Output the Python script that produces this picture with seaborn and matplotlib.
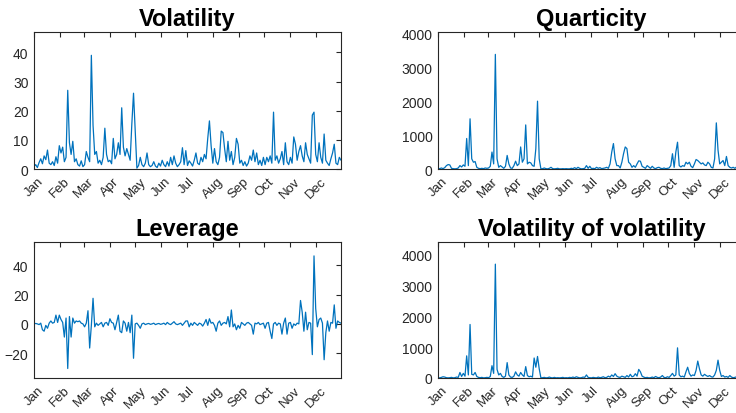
import numpy as np
import pandas as pd
import matplotlib
matplotlib.use("Agg")
import matplotlib.pyplot as plt
import matplotlib.dates as mdates
import seaborn as sns

# ---- data: one value every 2 days, Jan 1 .. Dec 31 ----
month_labels = ["Jan", "Feb", "Mar", "Apr", "May", "Jun",
                "Jul", "Aug", "Sep", "Oct", "Nov", "Dec"]
titles = ["Volatility", "Quarticity", "Leverage", "Volatility of volatility"]

volatility = [
    0.8, 1.5, 0.5, 2.2, 3.5, 1.8, 4.5, 3.2, 6.5, 2.0, 1.5, 2.5, 1.2, 4.2, 2.0,
    8.0, 5.5, 7.5, 2.5, 4.0, 27.0, 9.0, 5.0, 9.5, 2.5, 3.5, 1.5, 1.0, 2.8, 0.8,
    1.5, 6.0, 4.0, 2.5, 39.0, 15.0, 5.0, 6.0, 2.0, 3.0, 1.5, 4.0, 14.0, 5.0, 2.5, 3.0,
    1.8, 10.5, 3.5, 5.0, 9.0, 5.0, 21.0, 7.5, 4.5, 7.0, 5.0, 3.0, 15.5, 26.0, 13.5,
    0.3, 1.2, 4.0, 1.5, 0.8, 2.0, 5.5, 1.5, 0.8, 1.2, 2.5, 1.0, 0.5, 2.0, 1.0,
    3.0, 1.5, 0.8, 2.5, 1.0, 4.0, 1.5, 4.5, 2.0, 0.8, 1.5, 2.5, 7.3, 1.5, 6.3,
    1.2, 2.8, 2.0, 1.0, 3.0, 5.5, 2.0, 1.5, 4.0, 2.5, 5.0, 3.5, 10.5, 16.5, 8.0, 2.0,
    7.0, 2.5, 1.5, 4.0, 13.0, 12.5, 7.0, 2.5, 9.5, 3.0, 6.0, 1.5, 4.0, 10.5, 8.5,
    2.0, 3.0, 1.2, 2.5, 1.0, 2.0, 4.5, 3.0, 6.5, 2.5, 5.5, 1.5, 3.0, 1.2, 4.0,
    1.5, 4.0, 2.5, 4.5, 2.0, 19.5, 3.0, 4.5, 2.0, 3.5, 6.0, 1.5, 9.0, 2.5, 1.5,
    4.0, 2.0, 11.0, 8.5, 3.0, 6.0, 8.0, 4.5, 2.5, 9.0, 5.0, 3.5, 2.0, 18.5, 19.5, 5.0,
    2.5, 9.0, 4.0, 2.0, 12.0, 3.0, 2.0, 1.2, 3.5, 5.5, 8.5, 2.0, 1.5, 4.0, 3.0,
]

quarticity = [
    20, 10, 30, 10, 40, 100, 130, 120, 20, 10, 5, 10, 30, 100, 60,
    120, 80, 900, 100, 1480, 300, 200, 220, 50, 20, 10, 20, 10, 30, 20,
    30, 80, 500, 150, 3380, 300, 50, 100, 60, 20, 80, 400, 150, 30, 20, 100,
    230, 100, 150, 650, 200, 300, 1300, 150, 200, 180, 100, 80, 600, 2000, 300,
    5, 10, 30, 10, 5, 20, 50, 10, 5, 10, 20, 5, 5, 10, 5,
    10, 5, 5, 20, 10, 40, 10, 50, 20, 5, 10, 20, 100, 20, 80,
    10, 20, 10, 50, 20, 40, 10, 20, 30, 50, 20, 150, 500, 750, 300, 100,
    100, 30, 200, 450, 650, 600, 200, 150, 50, 100, 50, 150, 240, 230, 80,
    50, 20, 100, 60, 20, 80, 30, 10, 40, 50, 20, 10, 30, 10, 20,
    30, 100, 450, 50, 500, 790, 100, 60, 100, 80, 200, 150, 200, 80, 40,
    150, 280, 250, 200, 150, 180, 120, 100, 200, 150, 50, 30, 300, 1360, 560, 150,
    200, 250, 100, 370, 100, 50, 30, 50, 20, 60, 80, 30, 20, 50, 30,
]

leverage = [
    0, 0.3, 0, -0.5, 0.5, -4, -5, -1, -3, 0.5, 2, 0.5, 1, 6, 1,
    6, 3, 1, -9, 4, -30.5, 5, -9, 4, 0.5, 2, 1.5, 2, 0.5, 0,
    -2, 0.5, 9, -16.5, -1, 17.5, -2, 0.5, -1, 0, 1, -2, 0.5, 1, -1, 3.5,
    1, 0.5, -4, 1, 6, -5, -6, 2, 0.5, -5, 1, -6, 6, -23.5, 0,
    0.5, -1, -3, 0, 0.5, -0.5, 0, 0.3, -0.3, 0, 0.5, -0.5, 0, 0.3, -0.3,
    0, 0.5, -0.5, 1, 0, -0.5, 0.5, 1.5, 0, -0.5, 0, 0.5, -1, 0.5, 2,
    2, -2, 0.5, -1, 1, 0, -1, 0.5, 0, -1.5, 0.5, 3, -1, 3.5, 0.5, 1,
    -1, -5, 0.5, 2, -1, 0.5, 1, 0, 5, -2, 9.5, -2, 0, -4, -1,
    -3, 1, 0, -1, 0.5, 1, 0, -1, -7, 0.5, 0, 1, -0.5, 0, 0.5,
    -3, 0.5, 1, -5, -10, 0, 1, -1, 0.5, 0, -7, 0.5, 4, -7, 0.5,
    1, -3, 0, -1, 0.5, 0, 16, 8, -5, 8, -4, 1, 0.5, -21, 46.5, 10.5,
    -2, 3, 4, 0.5, -24.5, -6, 2, -5, 1, 0.5, 13, -3, 2, 1, 0.5,
]

vol_of_vol = [
    10, 5, 20, 40, 30, 10, 5, 10, 20, 5, 10, 30, 20, 180, 50,
    150, 60, 720, 100, 1740, 120, 100, 180, 50, 20, 10, 20, 5, 10, 20,
    10, 50, 400, 150, 3700, 280, 100, 150, 50, 20, 60, 500, 100, 30, 20, 60,
    200, 100, 60, 180, 100, 50, 370, 80, 40, 60, 30, 650, 350, 700, 300,
    5, 10, 20, 5, 10, 30, 10, 5, 20, 5, 10, 5, 10, 20, 5,
    10, 5, 20, 10, 30, 10, 40, 20, 5, 10, 30, 20, 100, 20, 10,
    5, 20, 10, 5, 30, 10, 20, 40, 10, 20, 60, 30, 100, 50, 140, 60,
    30, 20, 60, 40, 20, 80, 30, 120, 40, 60, 140, 60, 280, 200, 60,
    30, 10, 20, 5, 10, 30, 10, 50, 20, 10, 30, 80, 20, 10, 40,
    20, 80, 150, 60, 100, 980, 100, 40, 60, 30, 200, 350, 150, 60, 100,
    80, 250, 550, 300, 100, 60, 120, 80, 50, 80, 40, 30, 100, 250, 580, 250,
    50, 80, 30, 50, 20, 80, 30, 10, 20, 40, 10, 20, 30, 10, 20,
]

dates = pd.Timestamp("2019-01-01") + pd.to_timedelta(np.arange(len(volatility)) * 2, unit="D")

series = [volatility, quarticity, leverage, vol_of_vol]
ylims = [(0, 47), (0, 4040), (-37, 56), (0, 4420)]
yticks = [[0, 10, 20, 30, 40], [0, 1000, 2000, 3000, 4000],
          [-20, 0, 20, 40], [0, 1000, 2000, 3000, 4000]]

sns.set_style("white")
plt.rcParams["font.family"] = ["Liberation Sans", "DejaVu Sans"]

W, H = 736, 414
fig = plt.figure(figsize=(W / 100, H / 100), dpi=100)
rects = [
    (34, 33, 307, 137), (438, 33, 307, 137),
    (34, 243, 307, 136), (438, 243, 307, 136),
]
line_color = "#0072BD"
dark = "#262626"

for (x0, y0, w, h), vals, title, yl, yt in zip(rects, series, titles, ylims, yticks):
    ax = fig.add_axes([x0 / W, 1 - (y0 + h) / H, w / W, h / H])
    df = pd.DataFrame({"date": dates, "value": vals})
    sns.lineplot(data=df, x="date", y="value", ax=ax, color=line_color, linewidth=0.9)
    ax.set_xlim(pd.Timestamp("2019-01-01"), pd.Timestamp("2019-12-31"))
    ax.set_ylim(*yl)
    ax.set_yticks(yt)
    ax.xaxis.set_major_locator(mdates.MonthLocator())
    ax.xaxis.set_major_formatter(mdates.DateFormatter("%b"))
    ax.set_xlabel("")
    ax.set_ylabel("")
    ax.set_title(title, fontsize=17, fontweight="bold", pad=5, color="black")
    for s in ax.spines.values():
        s.set_color(dark)
        s.set_linewidth(0.8)
        s.set_visible(True)
    ax.tick_params(axis="both", which="major", direction="in", length=3.5, width=0.8,
                   colors=dark, labelsize=10, top=True, right=True)
    ax.tick_params(axis="y", pad=4)
    ax.tick_params(axis="x", pad=4, labelsize=9.5)
    plt.setp(ax.get_xticklabels(), rotation=45, ha="center", va="top",
             rotation_mode="default")

fig.savefig("out.png", dpi=100)
